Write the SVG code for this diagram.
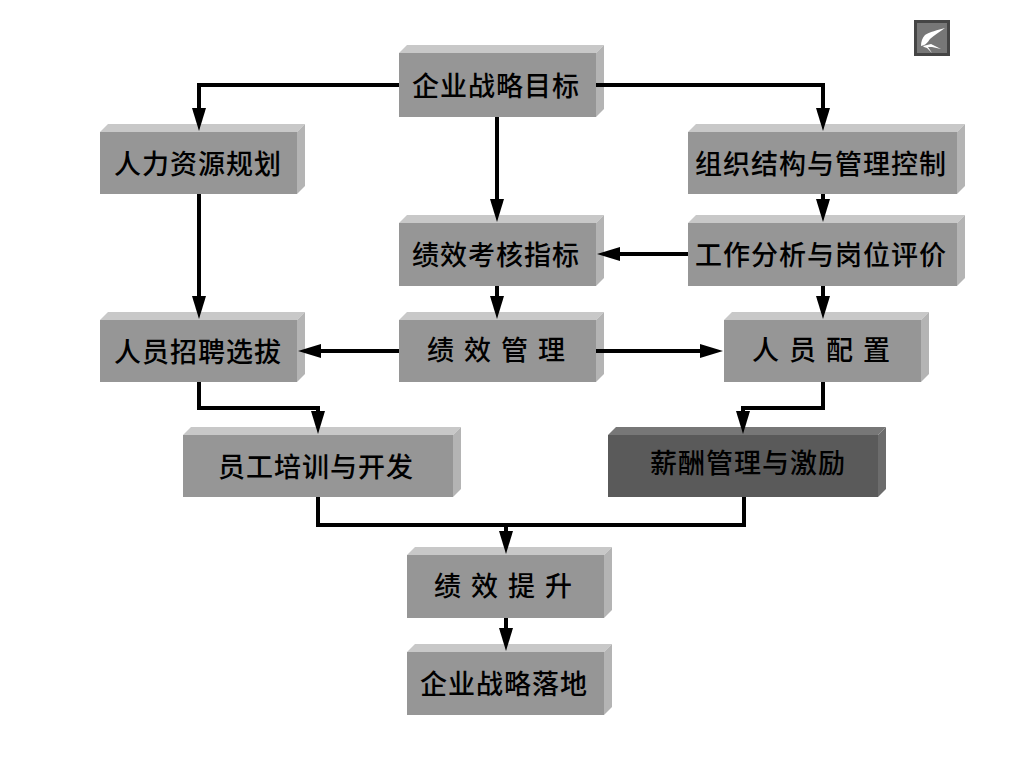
<svg xmlns="http://www.w3.org/2000/svg" width="1024" height="768" viewBox="0 0 1024 768">
<defs>
<marker id="arr" markerUnits="userSpaceOnUse" markerWidth="24" markerHeight="14" refX="4" refY="7" orient="auto"><path d="M0 0L23 7L0 14Z" fill="#000"/></marker>
<g id="sym"><rect width="36" height="36" fill="#454545"/><rect x="3" y="3" width="30" height="30" fill="#777"/><path d="M31 8C24 10 15 12 11 15C8 18 7 22 7 26C12 25 14 22 16 19C20 15 26 12 31 8Z" fill="#fff"/><path d="M9 26L17 24L27 29L18 27L14 27L18 33L13 28L10 27Z" fill="#fff"/></g>
</defs>
<style>
.f{fill:#969696}.t{fill:#c8c8c8}.s{fill:#b4b4b4}
.df{fill:#5a5a5a}.dt{fill:#777}.ds{fill:#6c6c6c}
text{font-family:"Noto Sans CJK SC","Liberation Sans",sans-serif;font-size:27px;font-weight:500;letter-spacing:1px;text-anchor:middle;fill:#000}
.w{letter-spacing:2px}
.c{fill:none;stroke:#000;stroke-width:4}
.a{marker-end:url(#arr)}
</style>
<rect width="1024" height="768" fill="#fff"/>
<g id="n1"><polygon class="t" points="399,53 407,45 604,45 596,53"/><polygon class="s" points="596,53 604,45 604,109 596,117"/><rect class="f" x="399" y="53" width="197" height="64"/><text x="496" y="96">企业战略目标</text></g>
<g id="n2"><polygon class="t" points="100,132 108,124 305,124 297,132"/><polygon class="s" points="297,132 305,124 305,186 297,194"/><rect class="f" x="100" y="132" width="197" height="62"/><text x="198" y="174">人力资源规划</text></g>
<g id="n3"><polygon class="t" points="688,132 696,124 965,124 957,132"/><polygon class="s" points="957,132 965,124 965,186 957,194"/><rect class="f" x="688" y="132" width="269" height="62"/><text x="821" y="174">组织结构与管理控制</text></g>
<g id="n4"><polygon class="t" points="399,223 407,215 604,215 596,223"/><polygon class="s" points="596,223 604,215 604,278 596,286"/><rect class="f" x="399" y="223" width="197" height="63"/><text x="496" y="265">绩效考核指标</text></g>
<g id="n5"><polygon class="t" points="688,223 696,215 965,215 957,223"/><polygon class="s" points="957,223 965,215 965,278 957,286"/><rect class="f" x="688" y="223" width="269" height="63"/><text x="821" y="265">工作分析与岗位评价</text></g>
<g id="n6"><polygon class="t" points="100,320 108,312 305,312 297,320"/><polygon class="s" points="297,320 305,312 305,374 297,382"/><rect class="f" x="100" y="320" width="197" height="62"/><text x="198" y="362">人员招聘选拔</text></g>
<g id="n7"><polygon class="t" points="399,320 407,312 604,312 596,320"/><polygon class="s" points="596,320 604,312 604,374 596,382"/><rect class="f" x="399" y="320" width="197" height="62"/><text class="w" x="497" y="360">绩 效 管 理</text></g>
<g id="n8"><polygon class="t" points="724,320 732,312 929,312 921,320"/><polygon class="s" points="921,320 929,312 929,374 921,382"/><rect class="f" x="724" y="320" width="197" height="62"/><text class="w" x="822" y="360">人 员 配 置</text></g>
<g id="n9"><polygon class="t" points="183,435 191,427 461,427 453,435"/><polygon class="s" points="453,435 461,427 461,489 453,497"/><rect class="f" x="183" y="435" width="270" height="62"/><text x="316" y="477">员工培训与开发</text></g>
<g id="n10"><polygon class="dt" points="608,435 616,427 886,427 878,435"/><polygon class="ds" points="878,435 886,427 886,489 878,497"/><rect class="df" x="608" y="435" width="270" height="62"/><text x="748" y="473">薪酬管理与激励</text></g>
<g id="n11"><polygon class="t" points="407,555 415,547 612,547 604,555"/><polygon class="s" points="604,555 612,547 612,610 604,618"/><rect class="f" x="407" y="555" width="197" height="63"/><text class="w" x="504" y="596">绩 效 提 升</text></g>
<g id="n12"><polygon class="t" points="407,652 415,644 612,644 604,652"/><polygon class="s" points="604,652 612,644 612,707 604,715"/><rect class="f" x="407" y="652" width="197" height="63"/><text x="504" y="694">企业战略落地</text></g>
<use href="#sym" x="914" y="20"/>
<g id="connectors">
<path class="c a" d="M399 85H199V112"/>
<path class="c a" d="M596 85H823V112"/>
<path class="c a" d="M497 117V203"/>
<path class="c a" d="M823 194V203"/>
<path class="c a" d="M688 254H616"/>
<path class="c a" d="M497 286V300"/>
<path class="c a" d="M823 286V300"/>
<path class="c a" d="M199 194V300"/>
<path class="c a" d="M399 351H317"/>
<path class="c a" d="M596 351H704"/>
<path class="c a" d="M199 382V408H318V415"/>
<path class="c a" d="M823 382V408H743V415"/>
<path class="c" d="M318 497V525H744V497"/>
<path class="c a" d="M506 525V535"/>
<path class="c a" d="M506 618V632"/>
</g>
</svg>
